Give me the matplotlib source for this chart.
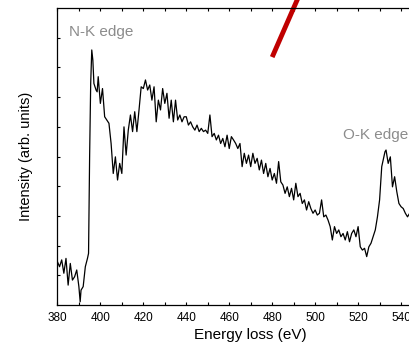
import numpy as np
import matplotlib
matplotlib.use("Agg")
import matplotlib.pyplot as plt

# EELS spectrum (energy in eV, intensity in arb. units)
energy = [380, 381, 382, 383, 384, 385, 386, 387, 388, 389, 390, 390.6, 391, 392, 393, 394, 394.5,
          395, 395.5, 396, 396.5, 397, 398, 398.5, 399, 400, 401, 402, 403, 404, 405, 406, 407, 408, 409,
          410, 411, 412, 413, 414, 415, 416, 417, 418, 419, 420, 421, 422, 423, 424, 425, 426, 427, 428, 429,
          430, 431, 432, 433, 434, 435, 436, 437, 438, 439, 440, 441, 442, 443, 444, 445, 446, 447, 448, 449,
          450, 451, 452, 453, 454, 455, 456, 457, 458, 459, 460, 461, 462, 463, 464, 465, 466, 467, 468, 469,
          470, 471, 472, 473, 474, 475, 476, 477, 478, 479, 480, 481, 482, 483, 484, 485, 486, 487, 488, 489,
          490, 491, 492, 493, 494, 495, 496, 497, 498, 499, 500, 501, 502, 503, 504, 505, 506, 507, 508, 509,
          510, 511, 512, 513, 514, 515, 516, 517, 518, 519, 520, 521, 522, 523, 524, 525, 526, 527, 528, 529,
          530, 531, 532, 532.5, 533, 534, 535, 536, 537, 538, 539, 540, 541, 542, 543, 544, 545, 546]
intensity = [1.46, 1.29, 1.52, 1.07, 1.57, 0.67, 1.40, 0.84, 0.95, 1.18, 0.62, 0.11, 0.50, 0.62, 1.29, 1.57, 1.74,
             5.00, 7.46, 8.59, 8.25, 7.46, 7.24, 7.18, 7.69, 6.79, 7.29, 6.34, 6.23, 6.12, 5.44, 4.43, 4.99, 4.21, 4.77,
             4.43, 6.00, 5.05, 5.89, 6.40, 5.84, 6.51, 5.84, 6.57, 7.35, 7.29, 7.58, 7.24, 7.41, 6.90, 7.35, 6.17, 6.90, 6.57, 7.29,
             6.79, 7.13, 6.29, 6.90, 6.17, 6.90, 6.23, 6.40, 6.17, 6.34, 6.34, 6.06, 6.17, 6.00, 5.89, 6.06, 5.84, 5.95, 5.84, 5.89,
             5.78, 6.40, 5.67, 5.78, 5.56, 5.72, 5.44, 5.61, 5.33, 5.72, 5.27, 5.67, 5.56, 5.44, 5.27, 5.44, 4.66, 5.11, 4.77, 5.05,
             4.66, 5.11, 4.77, 4.94, 4.55, 4.88, 4.43, 4.77, 4.32, 4.60, 4.21, 4.43, 4.10, 4.83, 4.15, 4.04, 3.76, 3.98, 3.65, 3.93,
             3.54, 4.10, 3.65, 3.76, 3.42, 3.54, 3.20, 3.48, 3.25, 3.09, 3.20, 3.03, 3.09, 3.54, 2.97, 3.03, 2.86, 2.64, 2.19, 2.64,
             2.41, 2.53, 2.30, 2.41, 2.19, 2.47, 2.13, 2.41, 2.53, 2.30, 2.64, 1.96, 1.85, 1.91, 1.63, 1.96, 2.08, 2.30, 2.53, 2.97,
             3.54, 4.66, 4.99, 5.16, 5.22, 4.77, 4.99, 3.98, 4.32, 3.82, 3.42, 3.31, 3.25, 3.09, 2.97, 3.09, 3.00, 2.95]

x_ticks = [380, 400, 420, 440, 460, 480, 500, 520, 540, 560]
edge_labels = ["N-K edge", "O-K edge"]

plt.rcParams['font.family'] = ['Liberation Sans', 'DejaVu Sans']

fig = plt.figure(figsize=(4.10, 3.52), dpi=100)
ax = fig.add_axes([0.14, 0.1335, 0.943, 0.8435])

ax.plot(energy, intensity, color='black', lw=0.9)

ax.set_xlim(380, 560)
ax.set_ylim(0, 10)
ax.set_xticks(x_ticks)
ax.set_xticks(np.arange(390, 560, 20), minor=True)
ax.set_yticks(np.arange(1, 10))
ax.set_yticklabels([])
ax.tick_params(axis='x', which='both', direction='in', top=True, labelsize=8.5, length=2.5, width=0.8, pad=5)
ax.tick_params(axis='y', which='both', direction='in', length=2.5, width=0.8)
for s in ax.spines.values():
    s.set_linewidth(0.9)

ax.set_xlabel('Energy loss (eV)', fontsize=11, labelpad=3)
ax.set_ylabel('Intensity (arb. units)', fontsize=10.5, labelpad=14)

# edge annotations
ax.text(385.4, 9.2, edge_labels[0], color='#8c8c8c', fontsize=11, va='center', ha='left')
ax.text(512.9, 5.72, edge_labels[1], color='#8c8c8c', fontsize=11, va='center', ha='left')

# red marker line reaching out of the frame
ax.plot([480, 496], [8.35, 11.0], color='#c00000', lw=3.5, clip_on=False, solid_capstyle='butt')

fig.savefig('out.png', dpi=100)
